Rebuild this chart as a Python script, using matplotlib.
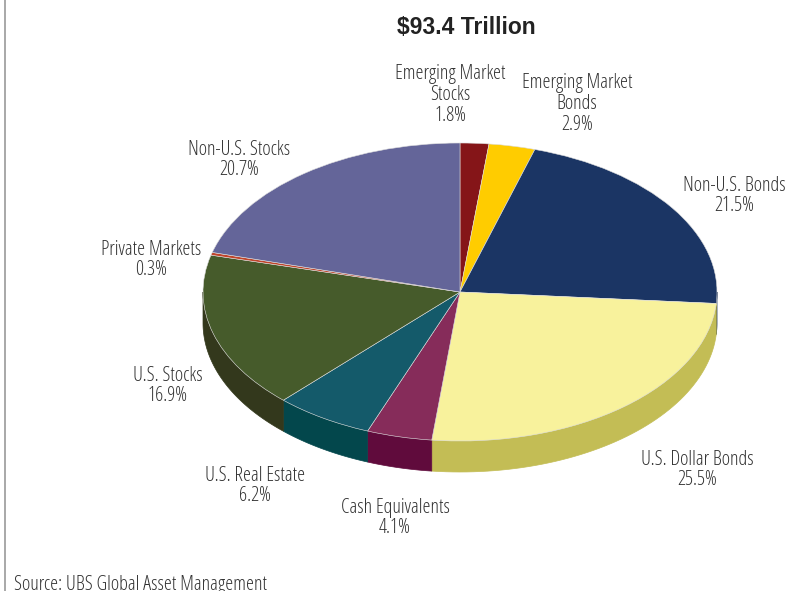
import numpy as np
import matplotlib
matplotlib.use("Agg")
import matplotlib.pyplot as plt
from matplotlib.patches import Polygon

# data (clockwise from 12 o'clock)
categories = ["Emerging Market\nStocks", "Emerging Market\nBonds", "Non-U.S. Bonds",
              "U.S. Dollar Bonds", "Cash Equivalents", "U.S. Real Estate",
              "U.S. Stocks", "Private Markets", "Non-U.S. Stocks"]
shares = [1.8, 2.9, 21.5, 25.5, 4.1, 6.2, 16.9, 0.3, 20.7]
title = "$93.4 Trillion"
source = "Source: UBS Global Asset Management"

top_colors = ["#851518", "#FFCC00", "#1B3564", "#F8F29C", "#862C5A",
              "#145A6A", "#465B2B", "#C0442A", "#646599"]
side_colors = ["#5E0E10", "#C9A000", "#10254A", "#C3BD55", "#600B3C",
               "#03474C", "#33381C", "#8A2E1C", "#464770"]

# label centres in pixels (x, y from top)
label_pos = [(450, 95), (577, 104), (734, 196), (697, 470), (395, 518),
             (255, 486), (168, 386), (151, 260), (239, 160)]

W, H = 785, 591
cx, cy = 460, 292          # pie centre in px
rx, ry = 257, 149          # ellipse radii in px
depth = 31 / ry            # side depth in data units

fig = plt.figure(figsize=(W / 100, H / 100), dpi=100)
ax = fig.add_axes([0, 0, 1, 1])

# 3d side walls, drawn under the pie
total = sum(shares)
cum = np.cumsum([0] + shares)
for i, c in enumerate(side_colors):
    a = 90 - cum[i + 1] / total * 360
    b = 90 - cum[i] / total * 360
    lo, hi = max(a, -180), min(b, 0)
    if hi <= lo:
        continue
    t = np.radians(np.linspace(lo, hi, 60))
    xs = np.concatenate([np.cos(t), np.cos(t[::-1])])
    ys = np.concatenate([np.sin(t), np.sin(t[::-1]) - depth])
    ax.add_patch(Polygon(np.column_stack([xs, ys]), closed=True, fc=c,
                         ec=c, lw=0.5, zorder=1))

wedges, _ = ax.pie(shares, colors=top_colors, startangle=90, counterclock=False,
                   radius=1, center=(0, 0),
                   wedgeprops=dict(edgecolor="#dddddd", linewidth=0.4))
for w in wedges:
    w.set_zorder(2)

ax.set_aspect("auto")
ax.set_xlim(-cx / rx, (W - cx) / rx)
ax.set_ylim(-(H - cy) / ry, cy / ry)
ax.axis("off")

lab_font = dict(family=["Open Sans", "DejaVu Sans"], fontstretch="condensed",
                fontweight=300, color="#333333")
for name, val, (px, py) in zip(categories, shares, label_pos):
    fig.text(px / W, 1 - py / H, f"{name}\n{val}%", ha="center", va="center",
             fontsize=14.5, linespacing=1.05, **lab_font)

fig.text(466 / W, 1 - 28 / H, title, ha="center", va="center", fontsize=16.5,
         fontweight="bold", color="#222222", family=["Liberation Sans", "DejaVu Sans"])
fig.text(14 / W, 1 - 575 / H, source, ha="left", va="top", fontsize=14.5, **lab_font)

# thin frame line on the left
fig.add_artist(plt.Line2D([4.5 / W, 4.5 / W], [0, 1], color="#999999", lw=1.2))

fig.savefig("out.png", dpi=100)
